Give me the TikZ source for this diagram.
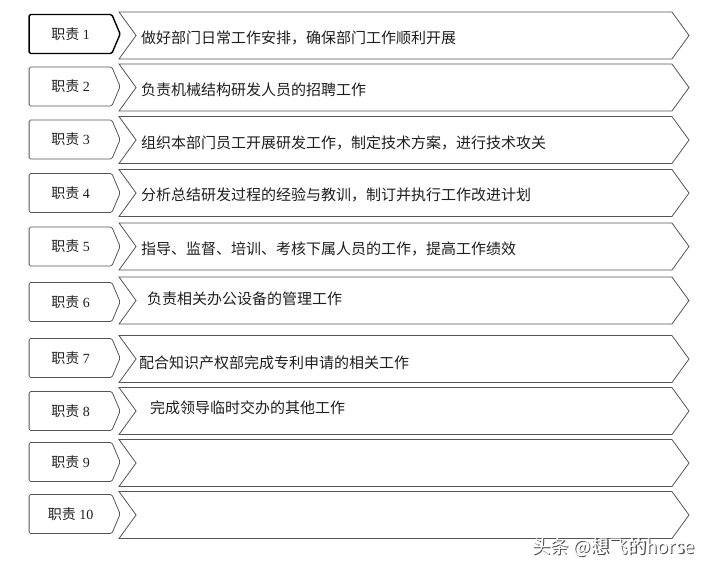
\documentclass[tikz,border=0pt]{standalone}
\usepackage{fontspec}
\setmainfont{Liberation Serif}
\newfontfamily\cjk{Noto Sans CJK SC}
\usepackage{tikz}
\usetikzlibrary{shapes.symbols}
\definecolor{edgegray}{RGB}{85,85,85}
\definecolor{textgray}{RGB}{30,30,30}

\begin{document}
\begin{tikzpicture}[
    x=1pt, y=-1pt,
    dutybox/.style={draw=edgegray, line width=0.8pt, signal, signal to=east, signal pointer angle=134, minimum width=91pt, minimum height=39pt, rounded corners=1.5pt, inner sep=0pt, text=textgray, font=\fontsize{14}{16}\selectfont},
    taskbar/.style={draw=edgegray, line width=0.8pt, signal, signal from=west, signal to=east, signal pointer angle=108, minimum width=570pt, minimum height=47pt, inner sep=0pt},
    tasktext/.style={anchor=west, inner sep=0pt, text=textgray, font=\cjk\fontsize{15}{17}\selectfont}
]
    \useasboundingbox (0,0) rectangle (714,574);

    % Duties column
    \node[dutybox, draw=black, line width=1.4pt] (duty1) at (70.5,34) {{\cjk 职责} 1};
    \node[dutybox] (duty2) at (70.5,86.5) {{\cjk 职责} 2};
    \node[dutybox] (duty3) at (70.5,139.5) {{\cjk 职责} 3};
    \node[dutybox] (duty4) at (70.5,193) {{\cjk 职责} 4};
    \node[dutybox] (duty5) at (70.5,246.5) {{\cjk 职责} 5};
    \node[dutybox] (duty6) at (70.5,302) {{\cjk 职责} 6};
    \node[dutybox] (duty7) at (70.5,358) {{\cjk 职责} 7};
    \node[dutybox] (duty8) at (70.5,411) {{\cjk 职责} 8};
    \node[dutybox] (duty9) at (70.5,462) {{\cjk 职责} 9};
    \node[dutybox] (duty10) at (70.5,514) {{\cjk 职责} 10};

    % Task bars
    \node[taskbar] (bar1) at (404,35.5) {};
    \node[taskbar] (bar2) at (404,87.5) {};
    \node[taskbar] (bar3) at (404,140) {};
    \node[taskbar] (bar4) at (404,193) {};
    \node[taskbar] (bar5) at (404,246.5) {};
    \node[taskbar] (bar6) at (404,300.5) {};
    \node[taskbar] (bar7) at (404,359) {};
    \node[taskbar] (bar8) at (404,411) {};
    \node[taskbar] (bar9) at (404,463) {};
    \node[taskbar] (bar10) at (404,515) {};

    % Task descriptions
    \node[tasktext] (task1) at (141,38) {做好部门日常工作安排，确保部门工作顺利开展};
    \node[tasktext] (task2) at (141,90) {负责机械结构研发人员的招聘工作};
    \node[tasktext] (task3) at (141,143) {组织本部门员工开展研发工作，制定技术方案，进行技术攻关};
    \node[tasktext] (task4) at (141,195) {分析总结研发过程的经验与教训，制订并执行工作改进计划};
    \node[tasktext] (task5) at (141,249) {指导、监督、培训、考核下属人员的工作，提高工作绩效};
    \node[tasktext] (task6) at (147,299) {负责相关办公设备的管理工作};
    \node[tasktext] (task7) at (139,363) {配合知识产权部完成专利申请的相关工作};
    \node[tasktext] (task8) at (150,408) {完成领导临时交办的其他工作};

    % Watermark
    \node[anchor=west, inner sep=0pt, text=black!70, font=\cjk\fontsize{18.5}{20}\selectfont] (markshadow) at (533.2,548.2) {头条 @想飞的horse};
    \node[anchor=west, inner sep=0pt, text=white, font=\cjk\fontsize{18.5}{20}\selectfont] (mark) at (532,547) {头条 @想飞的horse};
\end{tikzpicture}
\end{document}
